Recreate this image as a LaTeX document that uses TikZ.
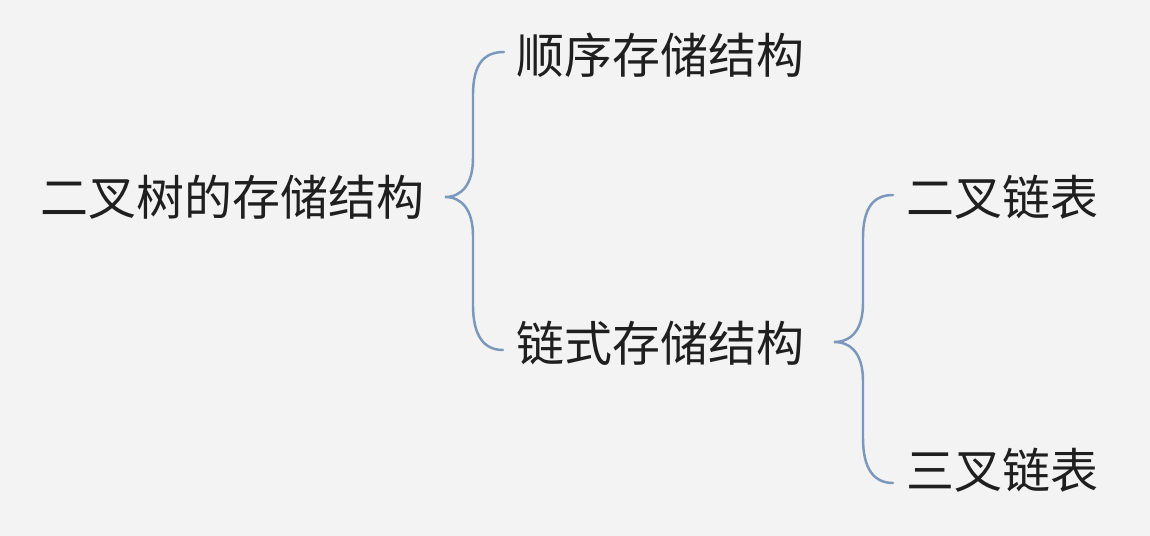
\documentclass[tikz,border=0pt]{standalone}
\usepackage{fontspec}
\newfontfamily\cjk{Noto Sans CJK SC}
\usetikzlibrary{calc}

\definecolor{bracecol}{RGB}{122,152,188}
\definecolor{bgcol}{RGB}{243,243,243}

\tikzset{
    label/.style={anchor=west, inner sep=0pt, font=\cjk\fontsize{27.3pt}{30pt}\selectfont, text=black!88},
    brace/.style={draw=bracecol, line width=1.4pt, line cap=round}
}

\begin{document}
\begin{tikzpicture}[x=0.02cm, y=-0.02cm]% [ show background grid ]
    \fill[bgcol] (0,0) rectangle (1150,536);
    \useasboundingbox (0,0) rectangle (1150,536);

    \node[label] (tree) at (40,197) {二叉树的存储结构};
    \node[label] (seq) at (516,55) {顺序存储结构};
    \node[label] (link) at (516,343) {链式存储结构};
    \node[label] (bin) at (906,197) {二叉链表};
    \node[label] (tri) at (906,470) {三叉链表};

    % first brace
    \coordinate (b1tip) at (445,197);
    \coordinate (b1top) at (504,52);
    \coordinate (b1bot) at (503,350);
    \draw[brace] (b1top) .. controls (484,52) and (473,64) .. (473,95)
        -- (473,158) .. controls (473,184) and (462,197) .. (b1tip)
        .. controls (462,197) and (473,210) .. (473,236)
        -- (473,305) .. controls (473,336) and (484,350) .. (b1bot);

    % second brace
    \coordinate (b2tip) at (834,342);
    \coordinate (b2top) at (893,195);
    \coordinate (b2bot) at (893,483);
    \draw[brace] (b2top) .. controls (874,195) and (863,207) .. (863,238)
        -- (863,303) .. controls (863,329) and (852,342) .. (b2tip)
        .. controls (852,342) and (863,355) .. (863,381)
        -- (863,438) .. controls (863,469) and (874,483) .. (b2bot);

\end{tikzpicture}
\end{document}
